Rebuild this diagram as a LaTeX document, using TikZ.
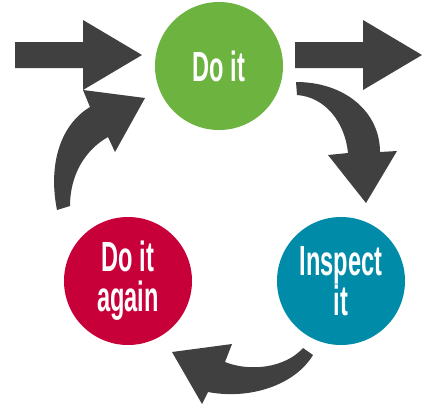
\documentclass[tikz,border=0pt]{standalone}
\usepackage{fontspec}
\newfontfamily\stagefont{Liberation Sans}[FakeStretch=0.56]
\usepackage{tikz}
\usetikzlibrary{positioning}

\definecolor{doitgreen}{RGB}{108,179,63}
\definecolor{againred}{RGB}{200,0,58}
\definecolor{inspectteal}{RGB}{0,140,168}
\definecolor{arrowgray}{RGB}{64,64,64}

\begin{document}
\begin{tikzpicture}[x=0.03cm, y=-0.03cm,
  stage/.style={circle, minimum size=3.84cm, inner sep=0pt, text=white, align=center,
    font=\stagefont\bfseries\fontsize{36}{34}\selectfont},
  fatarrow/.style={fill=arrowgray}]
  \useasboundingbox (0,0) rectangle (440,410);

  % The three stages of the cycle
  \node[stage, fill=doitgreen] (doit) at (219,66) {Do it};
  \node[stage, fill=againred] (again) at (128,281) {Do it\\again};
  \node[stage, fill=inspectteal] (inspect) at (341,281) {Inspect\\it};

  % Straight arrows in and out
  \fill[fatarrow] (15,42) -- (83,42) -- (83,20) -- (142,55) -- (83,90) -- (83,68) -- (15,68) -- cycle;
  \fill[fatarrow] (295,42) -- (363,42) -- (363,20) -- (422,55) -- (363,90) -- (363,68) -- (295,68) -- cycle;

  % Curved arrow from Do it down to Inspect it
  \fill[fatarrow] (296,82) .. controls (345,82) and (380,112) .. (380,152)
    -- (397,151) -- (366,203) -- (328,155) -- (348,153)
    .. controls (345,122) and (325,97) .. (297,95) -- cycle;

  % Curved arrow from Inspect it over to Do it again
  \fill[fatarrow] (303,348) .. controls (285,368) and (250,372) .. (225,362)
    -- (232,344) -- (172,352) -- (202,404) -- (208,392)
    .. controls (250,400) and (295,385) .. (313,355) -- cycle;

  % Curved arrow from Do it again back up to Do it
  \fill[fatarrow] (57,210) .. controls (48,165) and (60,125) .. (90,107)
    -- (83,90) -- (145,98) -- (115,152) -- (108,137)
    .. controls (85,150) and (70,175) .. (70,206) -- cycle;
\end{tikzpicture}
\end{document}
